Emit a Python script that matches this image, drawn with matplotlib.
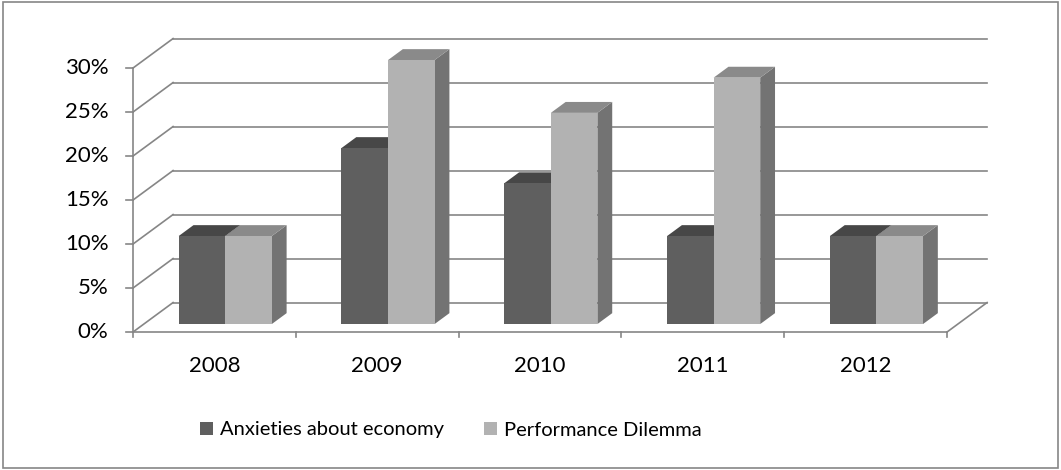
import matplotlib.pyplot as plt
from matplotlib.patches import Polygon, Rectangle, Patch

years = ["2008", "2009", "2010", "2011", "2012"]
economy = [10, 20, 16, 10, 10]
dilemma = [10, 30, 24, 28, 10]
yticks = [0, 5, 10, 15, 20, 25, 30]

# oblique "3d" offsets in data units (category / percent)
DX, DY = 0.246, 3.35
BAR_W = 0.286
D0, D1 = 0.27, 0.64   # bar depth span as fraction of the floor depth

dark = {"front": "#5f5f5f", "top": "#474747", "side": "#5a5a5a"}
light = {"front": "#b2b2b2", "top": "#8a8a8a", "side": "#737373"}
grid_c = "#868686"

plt.rcParams["font.family"] = ["Lato", "DejaVu Sans"]
FS = 16

fig = plt.figure(figsize=(10.61, 4.70), dpi=100)
ax = fig.add_axes([0, 0, 1, 1])
ax.set_xlim(-0.817, 5.700)
ax.set_ylim(-15.68, 37.73)
ax.axis("off")

n = len(years)

# back wall and left wall grid
for t in yticks:
    ax.plot([DX, n + DX], [t + DY, t + DY], color=grid_c, lw=1.2, zorder=1)
    ax.plot([0, DX], [t, t + DY], color=grid_c, lw=1.2, zorder=1)
    ax.plot([-0.045, 0], [t, t], color=grid_c, lw=1.2, zorder=1)
    ax.text(-0.15, t, f"{t}%", ha="right", va="center", fontsize=FS)

# floor
ax.plot([0, 0], [0, yticks[-1]], color=grid_c, lw=1.2, zorder=1)
ax.plot([0, n], [0, 0], color=grid_c, lw=1.2, zorder=1)
ax.plot([n, n + DX], [0, DY], color=grid_c, lw=1.2, zorder=1)
for i in range(n + 1):
    ax.plot([i, i], [0, -0.6], color=grid_c, lw=1.2, zorder=1)
for i, y in enumerate(years):
    ax.text(i + 0.5, -3.9, y, ha="center", va="center", fontsize=FS)


def bar(x0, x1, h, cols, z):
    ox, oy = DX * D0, DY * D0
    bx, by = DX * (D1 - D0), DY * (D1 - D0)
    fx0, fx1 = x0 + ox, x1 + ox
    front = [(fx0, oy), (fx1, oy), (fx1, oy + h), (fx0, oy + h)]
    top = [(fx0, oy + h), (fx1, oy + h), (fx1 + bx, oy + h + by), (fx0 + bx, oy + h + by)]
    side = [(fx1, oy), (fx1 + bx, oy + by), (fx1 + bx, oy + h + by), (fx1, oy + h)]
    for pts, key in [(side, "side"), (top, "top"), (front, "front")]:
        ax.add_patch(Polygon(pts, closed=True, facecolor=cols[key],
                             edgecolor="none", zorder=z))


for i in range(n):
    c = i + 0.5
    bar(c - BAR_W, c, economy[i], dark, 3 + 2 * i)
    bar(c, c + BAR_W, dilemma[i], light, 4 + 2 * i)

handles = [Patch(facecolor=dark["front"], label="Anxieties about economy"),
           Patch(facecolor=light["front"], label="Performance Dilemma")]
fig.legend(handles=handles, loc="center", bbox_to_anchor=(451 / 1061, 1 - 430 / 470),
           ncol=2, frameon=False, fontsize=14.5, handlelength=0.65, handleheight=0.65,
           handletextpad=0.35, columnspacing=2.0)

fig.add_artist(Rectangle((3 / 1061, 1 - 468 / 470), 1055 / 1061, 466 / 470,
                         transform=fig.transFigure, fill=False,
                         edgecolor="#868686", lw=1.2))

plt.savefig("out.png", dpi=100)
